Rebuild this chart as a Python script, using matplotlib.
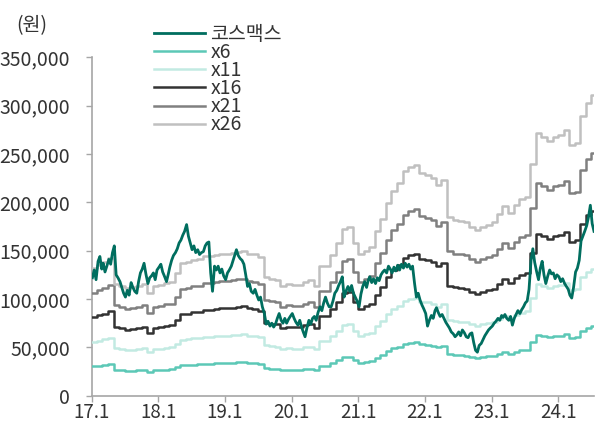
import matplotlib
matplotlib.use('Agg')
import matplotlib.pyplot as plt
import matplotlib.ticker as mticker
import numpy as np
import pandas as pd

plt.rcParams['font.family'] = ['Noto Sans CJK KR', 'DejaVu Sans']

# 코스맥스 주가 (천원), 매월 5일/15일/25일
p2017 = [122, 130, 120, 139, 144, 131, 137, 128, 134, 141, 136, 148,
         155, 125, 122, 118, 112, 106, 102, 109, 104, 117, 112, 108,
         106, 118, 127, 131, 137, 126, 116, 122, 124, 127, 120, 130]
p2018 = [133, 136, 128, 123, 118, 126, 133, 140, 145, 148, 152, 158,
         161, 166, 170, 177, 165, 158, 151, 155, 148, 151, 146, 148,
         149, 155, 158, 159, 127, 108, 134, 130, 134, 127, 131, 124]
p2019 = [120, 127, 130, 134, 140, 146, 151, 145, 142, 140, 136, 125,
         113, 116, 108, 106, 110, 104, 99, 102, 92, 85, 74, 77,
         72, 75, 71, 74, 80, 85, 78, 75, 80, 75, 79, 82]
p2020 = [85, 80, 76, 73, 78, 71, 66, 61, 70, 78, 74, 80,
         82, 78, 86, 92, 88, 96, 102, 96, 92, 92, 98, 106,
         109, 114, 118, 123, 102, 108, 113, 108, 114, 106, 102, 98]
p2021 = [92, 105, 113, 118, 112, 120, 123, 117, 121, 116, 122, 119,
         125, 128, 130, 127, 134, 131, 127, 133, 129, 135, 130, 136,
         132, 137, 133, 136, 131, 134, 116, 102, 106, 99, 94, 90]
p2022 = [85, 72, 78, 83, 80, 88, 91, 86, 82, 84, 80, 76,
         73, 70, 66, 64, 61, 63, 66, 62, 68, 65, 61, 60,
         64, 65, 55, 47, 45, 52, 54, 58, 62, 65, 68, 70]
p2023 = [72, 75, 77, 80, 78, 83, 81, 84, 80, 78, 82, 73,
         80, 84, 88, 85, 89, 92, 96, 98, 110, 140, 152, 138,
         128, 120, 132, 139, 125, 116, 124, 130, 126, 127, 121, 125]
p2024 = [123, 118, 121, 116, 113, 110, 104, 101, 112, 128, 132, 140,
         160, 165, 170, 176, 185, 197, 178, 170]
price_years = {2017: p2017, 2018: p2018, 2019: p2019, 2020: p2020,
               2021: p2021, 2022: p2022, 2023: p2023, 2024: p2024}

# 12개월 선행 EPS (원), 월초 기준 2017.1 ~ 2024.7
eps_vals = [
    5080, 5190, 5310, 5460, 4460, 4350, 4270, 4310, 4350, 4460, 4080, 4350,
    4420, 4500, 4540, 4880, 5270, 5310, 5380, 5420, 5540, 5540, 5580, 5650,
    5650, 5690, 5730, 5770, 5650, 5620, 5500, 4730, 4650, 4620, 4350, 4460,
    4420, 4420, 4540, 4620, 4350, 5150, 5150, 5580, 6080, 6620, 6730, 6080,
    5620, 5770, 5920, 6540, 7040, 7650, 8150, 8460, 8920, 9080, 9190, 8850,
    8770, 8650, 8380, 8580, 7120, 7000, 6960, 6920, 6730, 6580, 6730, 6810,
    6920, 7230, 7540, 7270, 7580, 7810, 7920, 9230, 10460, 10310, 10120, 10310,
    10380, 10580, 9960, 10040, 11120, 11650, 11960,
]
multiples = [6, 11, 16, 21, 26]
band_labels = ['x6', 'x11', 'x16', 'x21', 'x26']
yticks = [0, 50000, 100000, 150000, 200000, 250000, 300000, 350000]
xtick_years = [2017, 2018, 2019, 2020, 2021, 2022, 2023, 2024]
xtick_labels = ['17.1', '18.1', '19.1', '20.1', '21.1', '22.1', '23.1', '24.1']

price_x, price_y = [], []
for yr, vals in price_years.items():
    days = [pd.Timestamp(yr, m, d) for m in range(1, 13) for d in (5, 15, 25)]
    price_x += days[:len(vals)]
    price_y += [v * 1000 for v in vals]
price_x = pd.DatetimeIndex(price_x)

eps_x = pd.date_range('2017-01-01', periods=len(eps_vals), freq='MS')
eps_x = eps_x.append(pd.DatetimeIndex([price_x[-1]]))
eps = np.array(eps_vals + [eps_vals[-1]], dtype=float)

band_colors = ['#5cc8b6', '#c2eae2', '#333333', '#808080', '#c0c0c0']
price_color = '#006e5f'
axis_color = '#a6a6a6'
text_color = '#333333'

fig = plt.figure(figsize=(6, 4.23), dpi=100)
ax = fig.add_axes([0.1528, 0.0645, 0.8372, 0.80])

ax.plot(price_x, price_y, color=price_color, lw=2, label='코스맥스', zorder=5)
for m, lab, c in zip(multiples, band_labels, band_colors):
    ax.plot(eps_x, eps * m, color=c, lw=1.8, label=lab, drawstyle='steps-post', zorder=3)

ax.set_ylim(0, 350000)
ax.set_xlim(pd.Timestamp('2017-01-01'), pd.Timestamp('2024-07-15'))
ax.set_yticks(yticks)
ax.yaxis.set_major_formatter(mticker.FuncFormatter(lambda v, p: f'{v:,.0f}'))
ax.set_xticks([pd.Timestamp(f'{y}-01-01') for y in xtick_years])
ax.set_xticklabels(xtick_labels)

for s in ['top', 'right']:
    ax.spines[s].set_visible(False)
for s in ['left', 'bottom']:
    ax.spines[s].set_color(axis_color)
    ax.spines[s].set_linewidth(1.2)
ax.tick_params(axis='y', direction='out', length=4.5, width=1, color=axis_color,
               labelsize=14, labelcolor=text_color, pad=11)
ax.tick_params(axis='x', direction='out', length=4, width=1, color=axis_color,
               labelsize=13.5, labelcolor=text_color, pad=0.5)

fig.text(32 / 600, 1 - 26 / 423, '(원)', fontsize=14, color=text_color,
         ha='center', va='center')

handles, labels = ax.get_legend_handles_labels()
leg = fig.legend(handles, labels, loc='upper left', bbox_to_anchor=(154 / 600, 1 - 24 / 423),
                 frameon=False, fontsize=14, handlelength=2.6, handletextpad=0.3,
                 labelspacing=-0.15, borderpad=0, borderaxespad=0)
for t in leg.get_texts():
    t.set_color(text_color)

fig.savefig('out.png', dpi=100)
